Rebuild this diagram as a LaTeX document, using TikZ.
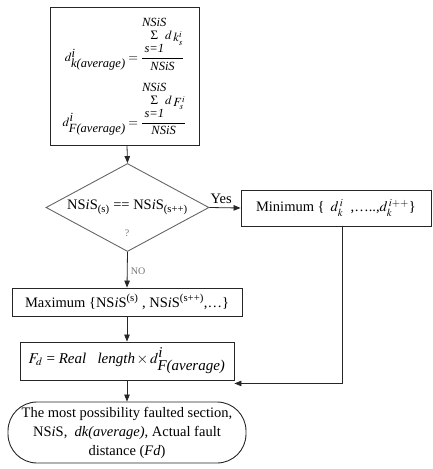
\documentclass[tikz,border=0pt]{standalone}
\usepackage{amsmath}
\usepackage{mathptmx}
\usepackage[no-math]{fontspec}
\setmainfont{Liberation Serif}
\usepackage{tikz}
\usetikzlibrary{arrows.meta,positioning,calc,shapes.geometric}

\newcommand{\ittxt}[1]{\mbox{\itshape #1}}

\begin{document}
\begin{tikzpicture}[
  x=1pt, y=-1pt,
  box/.style={draw=black!85, line width=0.9pt, align=center, inner sep=2pt, font=\fontsize{14.5}{19}\selectfont},
  gate/.style={draw=black!60, line width=0.9pt, diamond, aspect=1.85, inner sep=0pt, minimum width=163pt, minimum height=88pt},
  term/.style={box, rounded corners=29pt},
  arr/.style={-{Triangle[length=7pt,width=5.5pt]}, line width=0.8pt, draw=black!85},
  note/.style={font=\fontsize{10}{12}\selectfont, text=black!55}
]
\useasboundingbox (0,0) rectangle (433,469);

% formula box
\node[box, minimum width=149pt, minimum height=138pt, font=\fontsize{12.5}{14}\selectfont] (avg) at (124.5,76)
  {$d^{\ittxt{i}}_{\ittxt{k(average)}}=\dfrac{\begin{array}{@{}c@{}}\ittxt{NSiS}\\[-1pt]\Sigma\\[-1pt]\ittxt{s=1}\end{array}\!d\,\raisebox{-2pt}{$k^{i}_{s}$}}{\ittxt{NSiS}}$\\[10pt]
   $d^{\ittxt{i}}_{\ittxt{F(average)}}=\dfrac{\begin{array}{@{}c@{}}\ittxt{NSiS}\\[-1pt]\Sigma\\[-1pt]\ittxt{s=1}\end{array}\!d\,\raisebox{-2pt}{$F^{i}_{s}$}}{\ittxt{NSiS}}$};

% decision
\node[gate] (dec) at (127.5,207.5) {};
\node[font=\fontsize{14.5}{17}\selectfont] (dectxt) at (dec.center) {NS\textit{i}S$_{\text{(s)}}$ == NS\textit{i}S$_{\text{(s++)}}$};
\node[note] (qm) at (127,233) {?};

\node[box, minimum width=190pt, minimum height=36pt] (min) at (336,208)
  {Minimum \{\,\ $d^{\,i}_{k}$\ \ ,\ldots..,$d^{\,i++}_{k}$\}};
\node[box, minimum width=230pt, minimum height=28pt] (max) at (127,302)
  {Maximum \{NS\textit{i}S$^{\text{(s)}}$ , NS\textit{i}S$^{\text{(s++)}}$,\ldots\}};
\node[box, minimum width=214pt, minimum height=38pt, font=\fontsize{15}{18}\selectfont] (fd) at (127,361)
  {$F_{d}$ = \textit{Real}\ \ \ \textit{length}$\,\times\,d^{\ittxt{i}}_{\ittxt{F(average)}}$};
\node[term, minimum width=238pt, minimum height=61pt] (out) at (127,432.5)
  {The most possibility faulted section,\\NS\textit{i}S,\ \ \textit{dk(average)}, Actual fault\\distance (\textit{Fd})};

\draw[arr] ([xshift=2.5pt]avg.south) -- (dec.north);
\draw[arr] (dec.east) -- node[above, font=\fontsize{14.5}{17}\selectfont, pos=0.38]{Yes} (min.west);
\draw[arr] (dec.south) -- node[right, note, pos=0.55]{NO} (max.north);
\draw[arr] (max) -- (fd);
\draw[arr] ([xshift=6pt]min.south) |- ([yshift=-3pt]fd.south east);
\draw[arr] (fd) -- (out);
\end{tikzpicture}
\end{document}
